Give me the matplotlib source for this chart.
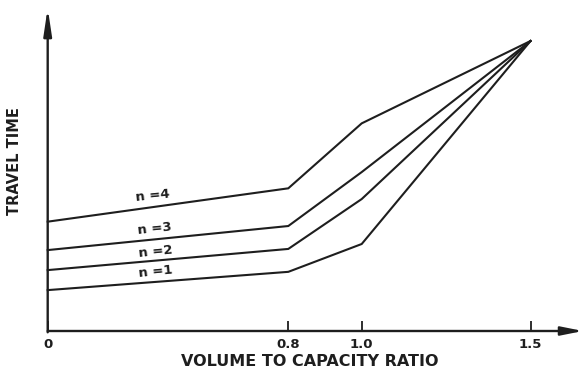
import numpy as np
import matplotlib
matplotlib.use("Agg")
import matplotlib.pyplot as plt

# ---- data (travel time in arbitrary units) ----
vc_ratio = [0.0, 0.8, 1.0, 1.5]
series_names = ["n =1", "n =2", "n =3", "n =4"]
tt_n1 = [1.41, 2.04, 3.00, 10.0]
tt_n2 = [2.10, 2.83, 4.55, 10.0]
tt_n3 = [2.79, 3.62, 5.48, 10.0]
tt_n4 = [3.77, 4.92, 7.16, 10.0]
tick_values = [0.0, 0.8, 1.0, 1.5]
tick_labels = ["0", "0.8", "1.0", "1.5"]
label_x = [0.36, 0.36, 0.355, 0.35]
label_y = [2.03, 2.72, 3.52, 4.66]

# schematic (non-uniform) horizontal scale of the original drawing
kx = [-10.0, 0.0, 0.8, 1.0, 1.5, 10.0]
ku = [-3007.5, 0.0, 240.6, 314.0, 482.8, 482.8 + 8.5 * 337.6]
def fwd(x):
    return np.interp(x, kx, ku)
def inv(u):
    return np.interp(u, ku, kx)

W, H = 584, 368
fig = plt.figure(figsize=(W / 100, H / 100), dpi=100)
fig.patch.set_facecolor("white")
x0, yb, xr, yt = 47.7, 331.0, 583.0, 8.0
ax = fig.add_axes([x0 / W, (H - yb) / H, (xr - x0) / W, (yb - yt) / H])
ax.set_xscale("function", functions=(fwd, inv))
ax.set_xlim(0, float(inv(xr - x0)))
ax.set_ylim(0, (yb - yt) / 29.0)

col = "#1e1e1e"
for ys in (tt_n1, tt_n2, tt_n3, tt_n4):
    ax.plot(vc_ratio, ys, color=col, lw=1.5, solid_joinstyle="miter", clip_on=False)

for s in ax.spines.values():
    s.set_visible(False)

ax.annotate("", xy=(1, 0), xytext=(0, 0), xycoords="axes fraction",
            textcoords="axes fraction", annotation_clip=False,
            arrowprops=dict(arrowstyle="-|>,head_length=0.65,head_width=0.13", color=col,
                            lw=1.7, mutation_scale=20, shrinkA=0, shrinkB=0))
ax.annotate("", xy=(0, 1), xytext=(0, -0.004), xycoords="axes fraction",
            textcoords="axes fraction", annotation_clip=False,
            arrowprops=dict(arrowstyle="-|>,head_length=0.8,head_width=0.12", color=col,
                            lw=1.7, mutation_scale=20, shrinkA=0, shrinkB=0))

ax.set_xticks(tick_values)
ax.set_xticklabels(tick_labels, fontweight="bold", fontsize=9.5, color=col)
ax.minorticks_off()
ax.tick_params(axis="x", direction="in", length=7, width=1.3, pad=5, colors=col)
ax.set_yticks([])

ax.set_xlabel("VOLUME TO CAPACITY RATIO", fontsize=11.5, fontweight="bold", color=col)
ax.xaxis.set_label_coords((310 - x0) / (xr - x0), -(354 - yb) / (yb - yt))
ax.set_ylabel("TRAVEL TIME", fontsize=10.5, fontweight="bold", color=col, va="center")
ax.yaxis.set_label_coords(-(x0 - 15) / (xr - x0), (yb - 161) / (yb - yt))

for name, lx, ly in zip(series_names, label_x, label_y):
    ax.text(lx, ly, name, fontsize=9.5, fontweight="bold", color=col,
            ha="center", va="center", rotation=6)

fig.savefig("out.png", dpi=100, facecolor="white")
